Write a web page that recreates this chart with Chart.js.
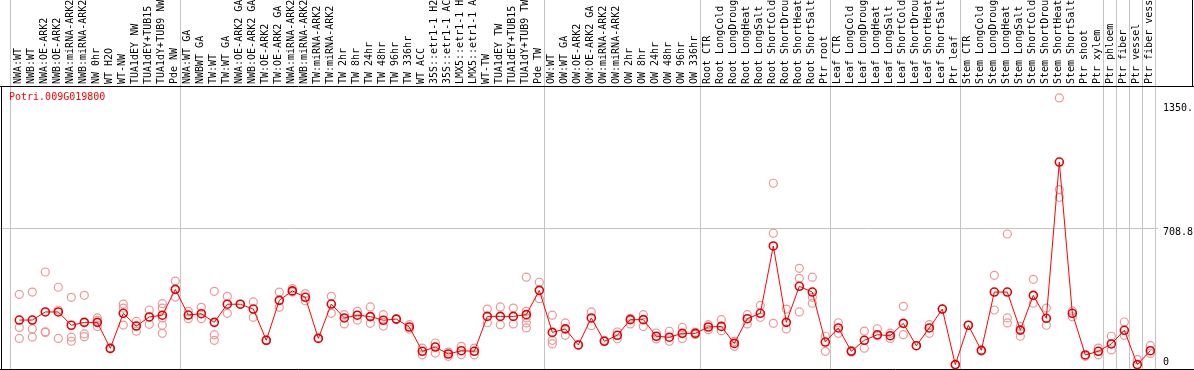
<!DOCTYPE html>
<html>
<head>
<meta charset="utf-8">
<script src="https://cdn.jsdelivr.net/npm/chart.js@4"></script>
<style>
  html, body { margin: 0; padding: 0; background: #fff; }
  #wrap { width: 1194px; height: 370px; }
</style>
</head>
<body>
<div id="wrap"><canvas id="geneChart" width="1194" height="370"></canvas></div>
<script>
// Sample names (as shown, clipped at the top)
const categories = [
  "NWA:WT", "NWB:WT", "NWA:OE-ARK2", "NWB:OE-ARK2", "NWA:miRNA-ARK2", "NWB:miRNA-ARK2",
  "NW 0hr", "WT H2O", "WT-NW", "TUA1dEY NW", "TUA1dEY+TUB15 NW", "TUA1dY+TUB9 NW", "Pde NW",
  "NWA:WT GA", "NWBWT GA", "TW:WT", "TW:WT GA", "NWA:OE-ARK2 GA", "NWB:OE-ARK2 GA",
  "TW:OE-ARK2", "TW:OE-ARK2 GA", "NWA:miRNA-ARK2", "NWB:miRNA-ARK2", "TW:miRNA-ARK2", "TW:miRNA-ARK2",
  "TW 2hr", "TW 8hr", "TW 24hr", "TW 48hr", "TW 96hr", "TW 336hr", "WT ACC",
  "35S::etr1-1 H2O", "35S::etr1-1 ACC", "LMX5::etr1-1 H2O", "LMX5::etr1-1 ACC",
  "WT-TW", "TUA1dEY TW", "TUA1dEY+TUB15 TW", "TUA1dY+TUB9 TW", "Pde TW",
  "OW:WT", "OW:WT GA", "OW:OE-ARK2", "OW:OE-ARK2 GA", "OW:miRNA-ARK2", "OW:miRNA-ARK2",
  "OW 2hr", "OW 8hr", "OW 24hr", "OW 48hr", "OW 96hr", "OW 336hr",
  "Root CTR", "Root LongCold", "Root LongDrought", "Root LongHeat", "Root LongSalt",
  "Root ShortCold", "Root ShortDrought", "Root ShortHeat", "Root ShortSalt", "Ptr root",
  "Leaf CTR", "Leaf LongCold", "Leaf LongDrought", "Leaf LongHeat", "Leaf LongSalt",
  "Leaf ShortCold", "Leaf ShortDrought", "Leaf ShortHeat", "Leaf ShortSalt", "Ptr leaf",
  "Stem CTR", "Stem LongCold", "Stem LongDrought", "Stem LongHeat", "Stem LongSalt",
  "Stem ShortCold", "Stem ShortDrought", "Stem ShortHeat", "Stem ShortSalt", "Ptr shoot",
  "Ptr xylem", "Ptr phloem", "Ptr fiber", "Ptr vessel", "Ptr fiber vessel"
];

// index of the last sample in each group (group separators)
const groupEnds = [12, 40, 52, 62, 72, 83, 84, 85, 86, 87];

// mean expression per sample
const means = [
  233, 233, 275, 275, 206, 221, 221, 86, 268, 202, 249, 258, 392,
  259, 266, 221, 315, 315, 290, 128, 335, 384, 351, 138, 316, 244, 258, 251, 232,
  238, 197, 71, 93, 57, 74, 71, 252, 252, 252, 261, 387,
  169, 187, 104, 244, 123, 154, 235, 235, 149, 144, 164, 164,
  197, 200, 112, 240, 268, 617, 221, 408, 378, 119,
  192, 71, 128, 157, 152, 216, 100, 192, 290, 2,
  206, 76, 378, 378, 181, 361, 242, 1052, 268, 52, 71,
  109, 180, 2, 74
];

// replicate values per sample
const replicates = [
  [366, 195, 138], [378, 187, 145], [482, 169, 172], [403, 285, 138], [351, 144, 123],
  [361, 161, 147], [244, 232, 199], [88, 84], [316, 295, 207], [226, 175, 202],
  [285, 211, 249], [318, 295, 244, 206, 164], [435, 352],
  [278, 240], [299, 240], [382, 157, 128], [356, 268], [315], [327, 247], [130, 126],
  [378, 299], [396, 378], [370, 333], [140], [356, 268], [261, 213], [278, 233],
  [301, 216], [261, 202],
  [238], [209, 186], [88, 53], [114, 62], [67, 45], [97, 53], [88, 53], [290, 219],
  [301, 209], [295, 213], [455, 278, 244, 218, 192], [429, 344],
  [258, 128, 109], [218, 154], [104], [275, 204], [128], [171, 136], [242, 213],
  [261, 199], [166, 135], [175, 123], [195, 138], [170, 158],
  [209, 183], [235, 178], [97, 122], [261, 213], [309, 247], [942, 683, 216],
  [290, 187], [501, 449, 275], [455, 351, 320], [149, 71],
  [219, 164], [75, 67], [176, 87], [188, 152], [165, 138], [304, 157], [100],
  [209, 164], [290], [2],
  [206], [72], [465, 285], [679, 244, 218], [149, 200], [444, 320], [295, 206],
  [1384, 909, 869], [280, 250], [45], [88, 53],
  [149, 78], [223, 154], [28], [100, 60]
];

const yTicks = [0, 708.8, 1350];
const yTickLabels = ["0", "708.8", "1350."];
const geneName = "Potri.009G019800";

// small vertical nudge of each y tick label (px)
const yLabelNudge = [-3, 4, 4];

const monoFont = { family: "'DejaVu Sans Mono', monospace", size: 10 };

const repPoints = [];
replicates.forEach((vals, i) => {
  vals.forEach(v => repPoints.push({ x: i, y: v }));
});

// gray separators, black frame, y labels and the gene name
const framePlugin = {
  id: "frame",
  beforeDatasetsDraw(chart) {
    const { ctx, chartArea, scales } = chart;
    ctx.save();
    ctx.strokeStyle = "#c4c4c4";
    ctx.lineWidth = 1;
    const seps = [-0.7].concat(groupEnds.map(k => k + 0.37));
    seps.forEach(v => {
      const px = Math.round(scales.x.getPixelForValue(v)) + 0.5;
      ctx.beginPath();
      ctx.moveTo(px, 0);
      ctx.lineTo(px, chartArea.bottom);
      ctx.stroke();
    });
    ctx.restore();
  },
  afterDraw(chart) {
    const { ctx, chartArea, width, scales } = chart;
    ctx.save();
    ctx.strokeStyle = "#000";
    ctx.lineWidth = 1;
    ctx.beginPath();
    ctx.moveTo(0, chartArea.top + 0.5);
    ctx.lineTo(width, chartArea.top + 0.5);
    ctx.moveTo(0, chartArea.bottom + 0.5);
    ctx.lineTo(width, chartArea.bottom + 0.5);
    ctx.moveTo(1.5, chartArea.top);
    ctx.lineTo(1.5, chartArea.bottom);
    ctx.moveTo(width - 1.5, 0);
    ctx.lineTo(width - 1.5, chartArea.top);
    ctx.stroke();
    ctx.font = "10px 'DejaVu Sans Mono', monospace";
    ctx.textBaseline = "middle";
    ctx.fillStyle = "#000";
    yTicks.forEach((v, i) => {
      ctx.fillText(yTickLabels[i], chartArea.right + 5, scales.y.getPixelForValue(v) + yLabelNudge[i]);
    });
    ctx.fillStyle = "#ff0000";
    ctx.fillText(geneName, 9, chartArea.top + 11);
    ctx.restore();
  }
};

const ctx = document.getElementById("geneChart");
new Chart(ctx, {
  type: "line",
  data: {
    datasets: [
      {
        label: "mean",
        data: means.map((v, i) => ({ x: i, y: v })),
        borderColor: "#ff0000",
        borderWidth: 1,
        pointStyle: "circle",
        pointRadius: 4,
        pointBorderWidth: 1.6,
        pointBorderColor: "#e00000",
        pointBackgroundColor: "rgba(0,0,0,0)",
        tension: 0
      },
      {
        label: "replicates",
        data: repPoints,
        showLine: false,
        pointStyle: "circle",
        pointRadius: 4,
        pointBorderWidth: 1.2,
        pointBorderColor: "#eb9898",
        pointBackgroundColor: "rgba(0,0,0,0)"
      }
    ]
  },
  options: {
    responsive: false,
    animation: false,
    events: [],
    layout: { autoPadding: false, padding: { left: 0, right: 0, top: 0, bottom: 1 } },
    plugins: {
      legend: { display: false },
      tooltip: { enabled: false },
      title: { display: false }
    },
    scales: {
      x: {
        type: "linear",
        position: "top",
        min: -1.485,
        max: 87.59,
        grid: { display: false, drawTicks: false },
        border: { display: false },
        afterBuildTicks: s => { s.ticks = categories.map((c, i) => ({ value: i })); },
        afterFit: s => { s.height = 86; s.paddingLeft = 0; s.paddingRight = 0; },
        ticks: {
          autoSkip: false,
          maxRotation: 90,
          minRotation: 90,
          padding: 2,
          labelOffset: 11,
          color: "#000",
          font: monoFont,
          callback: v => categories[v]
        }
      },
      y: {
        type: "linear",
        position: "right",
        min: -20.7,
        max: 1446,
        afterBuildTicks: s => { s.ticks = yTicks.map(v => ({ value: v })); },
        afterFit: s => { s.width = 36; s.paddingTop = 0; s.paddingBottom = 0; },
        grid: {
          drawTicks: false,
          color: c => (c.tick && c.tick.value === 708.8 ? "#c4c4c4" : "rgba(0,0,0,0)")
        },
        border: { display: false },
        ticks: { display: false }
      }
    }
  },
  plugins: [framePlugin]
});
</script>
</body>
</html>
